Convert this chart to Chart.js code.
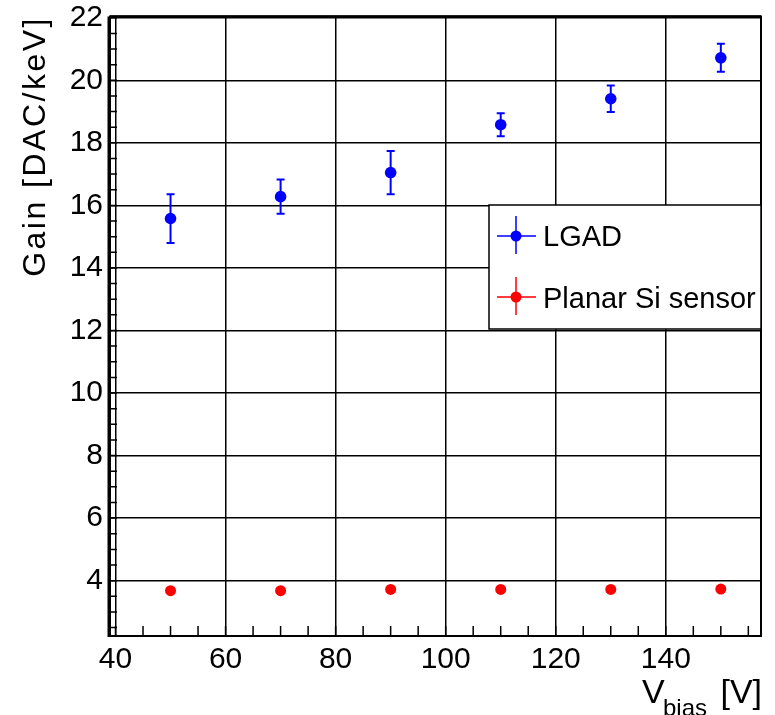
<!DOCTYPE html>
<html><head><meta charset="utf-8">
<script src="https://cdn.jsdelivr.net/npm/chart.js@4/dist/chart.umd.min.js"></script>
<style>html,body{margin:0;padding:0;background:#fff;overflow:hidden}</style>
</head><body>
<canvas id="c" width="775" height="715"></canvas>
<script>
// ---- data ----
const biasVoltages = [50, 70, 90, 110, 130, 150];
const lgadGain = [15.58, 16.28, 17.05, 18.58, 19.41, 20.72];
const lgadErr = [0.78, 0.55, 0.69, 0.37, 0.42, 0.45];
const planarGain = [3.68, 3.68, 3.72, 3.72, 3.72, 3.73];
const planarErr = [0.06, 0.06, 0.06, 0.06, 0.06, 0.06];
const seriesNames = ['LGAD', 'Planar Si sensor'];
const seriesColors = ['#0000ff', '#ff0000'];
const xTitleParts = ['V', 'bias', '[V]'];
const yTitle = 'Gain [DAC/keV]';
const xRange = [39, 157.3];
const yRange = [2.23, 22.04];
const xMinorStep = 5;
const yMinorStep = 0.5;

const FONT = '"Liberation Sans", Arial, Helvetica, sans-serif';

const toPoints = (xs, ys) => xs.map((x, i) => ({x: x, y: ys[i]}));

const errorBars = {
  id: 'errorBars',
  beforeDatasetsDraw(chart) {
    const ctx = chart.ctx, xs = chart.scales.x, ys = chart.scales.y;
    const sets = [[lgadGain, lgadErr, seriesColors[0]], [planarGain, planarErr, seriesColors[1]]];
    ctx.save();
    ctx.lineWidth = 2;
    sets.forEach(([vals, errs, col]) => {
      ctx.strokeStyle = col;
      biasVoltages.forEach((v, i) => {
        const px = xs.getPixelForValue(v);
        const top = ys.getPixelForValue(vals[i] + errs[i]);
        const bot = ys.getPixelForValue(vals[i] - errs[i]);
        ctx.beginPath();
        ctx.moveTo(px, top); ctx.lineTo(px, bot);
        if (errs[i] > 0.2) {
          ctx.moveTo(px - 4, top); ctx.lineTo(px + 4, top);
          ctx.moveTo(px - 4, bot); ctx.lineTo(px + 4, bot);
        }
        ctx.stroke();
      });
    });
    ctx.restore();
  }
};

const frameAndExtras = {
  id: 'frameAndExtras',
  afterDraw(chart) {
    const ctx = chart.ctx, a = chart.chartArea, xs = chart.scales.x, ys = chart.scales.y;
    ctx.save();
    // minor ticks
    ctx.strokeStyle = '#000';
    ctx.lineWidth = 1.5;
    ctx.beginPath();
    for (let v = Math.ceil(xRange[0] / xMinorStep) * xMinorStep; v <= xRange[1]; v += xMinorStep) {
      const px = xs.getPixelForValue(v);
      ctx.moveTo(px, a.bottom); ctx.lineTo(px, a.bottom - 10);
    }
    for (let v = Math.ceil(yRange[0] / yMinorStep) * yMinorStep; v <= yRange[1]; v += yMinorStep) {
      const py = ys.getPixelForValue(v);
      ctx.moveTo(a.left, py); ctx.lineTo(a.left + 7, py);
    }
    ctx.stroke();
    // frame
    ctx.lineWidth = 2;
    ctx.strokeRect(a.left, a.top, a.right - a.left, a.bottom - a.top);
    ctx.lineWidth = 3;
    ctx.beginPath(); ctx.moveTo(a.left - 1, a.top); ctx.lineTo(a.left - 1, a.bottom + 1); ctx.stroke();
    ctx.lineWidth = 2.5;
    ctx.beginPath(); ctx.moveTo(a.left, a.top); ctx.lineTo(a.right, a.top); ctx.stroke();

    // legend
    const lx0 = 489, ly0 = 205, lx1 = a.right, ly1 = 329;
    ctx.fillStyle = '#fff';
    ctx.fillRect(lx0, ly0, lx1 - lx0, ly1 - ly0);
    ctx.lineWidth = 1.5;
    ctx.strokeStyle = '#000';
    ctx.strokeRect(lx0, ly0, lx1 - lx0, ly1 - ly0);
    const entries = [[236, 246], [297, 308]];
    entries.forEach(([cy, base], k) => {
      ctx.strokeStyle = seriesColors[k];
      ctx.lineWidth = 1.5;
      ctx.beginPath();
      ctx.moveTo(497, cy); ctx.lineTo(536, cy);
      ctx.moveTo(516, cy - 20); ctx.lineTo(516, cy + 18);
      ctx.stroke();
      ctx.fillStyle = seriesColors[k];
      ctx.beginPath(); ctx.arc(516, cy, 5.5, 0, Math.PI * 2); ctx.fill();
      ctx.fillStyle = '#000';
      ctx.font = '29px ' + FONT;
      ctx.textAlign = 'left';
      ctx.textBaseline = 'alphabetic';
      ctx.fillText(seriesNames[k], 543, base);
    });

    // x title
    ctx.fillStyle = '#000';
    ctx.textBaseline = 'alphabetic';
    ctx.textAlign = 'left';
    ctx.font = '34px ' + FONT;
    ctx.fillText(xTitleParts[0], 642, 703);
    ctx.font = '24px ' + FONT;
    ctx.fillText(xTitleParts[1], 663, 716);
    ctx.font = '34px ' + FONT;
    ctx.textAlign = 'right';
    ctx.fillText(xTitleParts[2], 762, 703);

    // y title
    ctx.translate(45, 16);
    ctx.rotate(-Math.PI / 2);
    ctx.font = '32px ' + FONT;
    ctx.letterSpacing = '2.5px';
    ctx.textAlign = 'right';
    ctx.fillText(yTitle, 0, 0);
    ctx.restore();
  }
};

new Chart(document.getElementById('c'), {
  type: 'scatter',
  data: {
    datasets: [
      {label: seriesNames[0], data: toPoints(biasVoltages, lgadGain), backgroundColor: seriesColors[0], borderColor: seriesColors[0], pointRadius: 5.8, pointHoverRadius: 5.8, borderWidth: 0},
      {label: seriesNames[1], data: toPoints(biasVoltages, planarGain), backgroundColor: seriesColors[1], borderColor: seriesColors[1], pointRadius: 5.5, pointHoverRadius: 5.5, borderWidth: 0}
    ]
  },
  options: {
    responsive: false,
    animation: false,
    devicePixelRatio: 1,
    layout: {padding: {top: 16.5, right: 14, left: 0, bottom: 0}},
    plugins: {legend: {display: false}, tooltip: {enabled: false}},
    scales: {
      x: {
        type: 'linear', min: xRange[0], max: xRange[1],
        afterFit: s => { s.height = 79; s.paddingLeft = 0; s.paddingRight = 0; },
        ticks: {stepSize: 20, includeBounds: false, autoSkip: false, maxRotation: 0, color: '#000', padding: 6, font: {family: FONT, size: 30}},
        grid: {color: '#000', lineWidth: 1.5, drawTicks: false},
        border: {display: false}
      },
      y: {
        type: 'linear', min: yRange[0], max: yRange[1],
        afterFit: s => { s.width = 110; s.paddingTop = 0; s.paddingBottom = 0; },
        ticks: {stepSize: 2, includeBounds: false, autoSkip: false, color: '#000', padding: 7, font: {family: FONT, size: 30}},
        grid: {color: '#000', lineWidth: 1.5, drawTicks: false},
        border: {display: false}
      }
    }
  },
  plugins: [errorBars, frameAndExtras]
});
</script>
</body></html>
